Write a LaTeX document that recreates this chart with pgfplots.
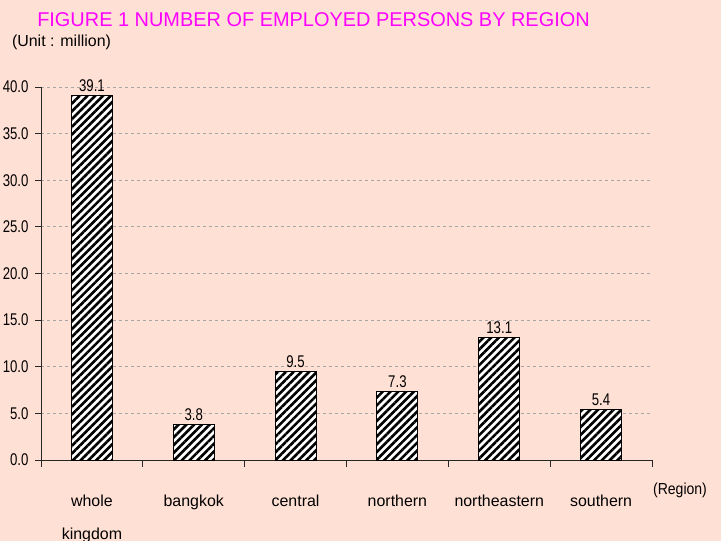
\documentclass[border=0pt]{standalone}
\usepackage{pgfplots}
\pgfplotsset{compat=1.18}
\usetikzlibrary{patterns.meta}
\usepackage{fontspec}
\setmainfont{Liberation Sans}
\newfontfamily\nf{Liberation Sans}[FakeStretch=0.78]
\newfontfamily\rf{Liberation Sans}[FakeStretch=0.88]
\definecolor{bg}{RGB}{255,224,212}
\definecolor{ttl}{RGB}{255,0,255}
\begin{document}
\begin{tikzpicture}
\fill[bg] (0,0) rectangle (721bp,541bp);
\begin{axis}[
  at={(41bp,81bp)}, anchor=south west,
  scale only axis, width=611bp, height=373bp,
  xmin=-0.5, xmax=5.5, ymin=0, ymax=40,
  axis x line*=bottom, axis y line*=left,
  axis line style={black!85, line width=0.9bp, -},
  clip=false,
  tick align=outside,
  ytick={0,5,...,40},
  major tick length=6bp,
  minor tick length=7bp,
  tick style={black!85, line width=0.9bp},
  xtick={0,1,2,3,4,5},
  major x tick style={draw=none},
  minor xtick={-0.5,0.5,1.5,2.5,3.5,4.5,5.5},
  xticklabels={{whole\\[14bp]kingdom},bangkok,central,northern,northeastern,southern},
  xticklabel style={align=center, font=\fontsize{16}{19}\selectfont, yshift=-25bp},
  yticklabel style={font=\nf\fontsize{17}{20}\selectfont, xshift=-3bp},
  /pgf/number format/assume math mode=true,
  yticklabel={\pgfmathprintnumber[fixed,fixed zerofill,precision=1]{\tick}},
  ymajorgrids,
  major grid style={gray!70, line width=0.8bp, dash pattern=on 3bp off 3bp},
]
\addplot[ybar, bar width=41bp, draw=black, line width=1bp, fill=white,
  postaction={pattern={Lines[angle=45,distance=5.5bp,line width=2.6bp]}},
  nodes near coords={\pgfmathprintnumber[fixed,fixed zerofill,precision=1,assume math mode=true]{\pgfplotspointmeta}},
  every node near coord/.append style={font=\nf\fontsize{17}{20}\selectfont, black, yshift=0bp}
] coordinates {(0,39.1)(1,3.8)(2,9.5)(3,7.3)(4,13.1)(5,5.4)};
\end{axis}
\node[text=ttl, font=\fontsize{20}{24}\selectfont] at (313.5bp,521bp) {FIGURE 1 NUMBER OF EMPLOYED PERSONS BY REGION};
\node[font=\fontsize{16}{19}\selectfont] at (61.5bp,499bp) {(Unit : million)};
\node[font=\rf\fontsize{16}{19}\selectfont] at (680bp,51bp) {(Region)};
\pgfresetboundingbox
\useasboundingbox (0,0) rectangle (721bp,541bp);
\end{tikzpicture}
\end{document}
